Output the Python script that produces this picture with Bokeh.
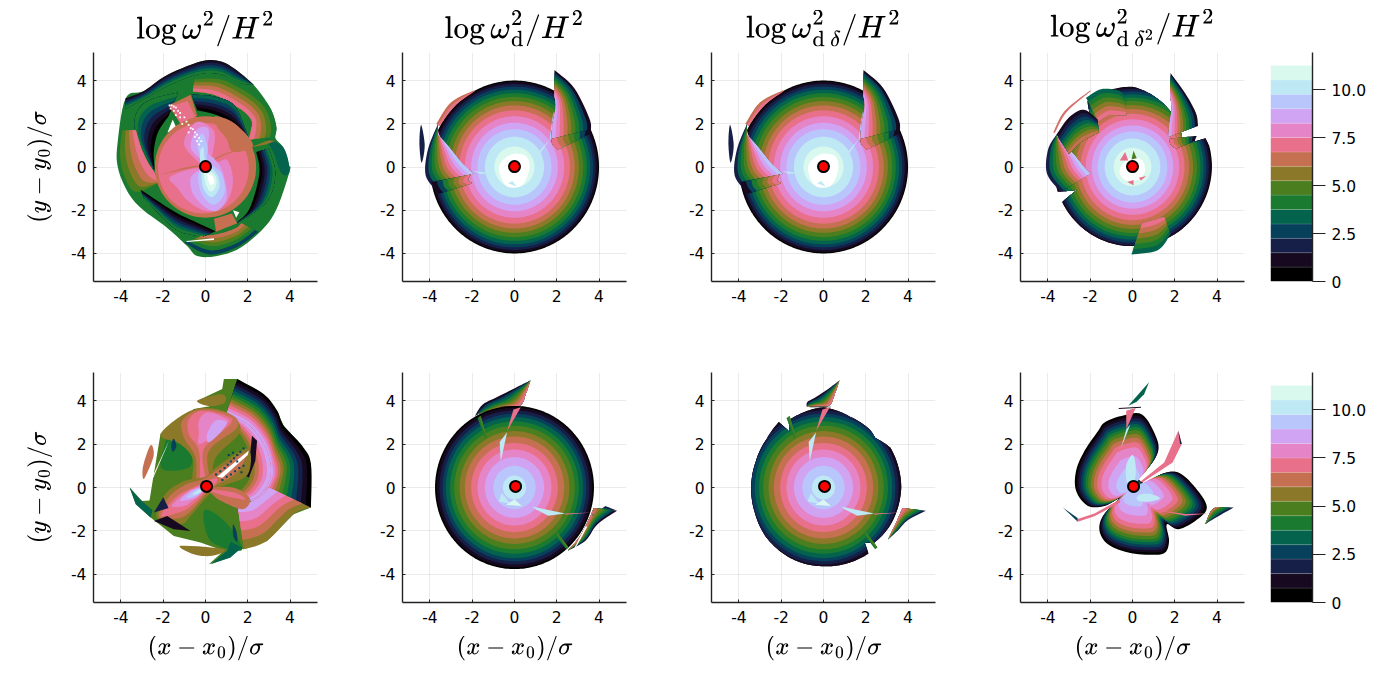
import numpy as np
from bokeh.embed import file_html
from bokeh.layouts import column, row
from bokeh.models import FixedTicker, Range1d
from bokeh.plotting import figure
from bokeh.resources import INLINE

# colour per contour level, bottom of the colorbar first
level_colors = ["#000000", "#170a20", "#161f48", "#07405a", "#04634d", "#1a7a30", "#4a7e1e", "#8b7828",
                "#c67052", "#e8708a", "#e684c8", "#d0a4f3", "#b9c6fc", "#bde8f4", "#d9f8ee", "#ffffff"]
WHITE = 15

colorbar_edges = [0, 0.75, 1.5, 2.25, 3, 3.75, 4.5, 5.25, 6, 6.75, 7.5, 8.25, 9, 9.75, 10.5, 11.25]
colorbar_ticks = [0, 2.5, 5, 7.5, 10]
colorbar_labels = ["0", "2.5", "5.0", "7.5", "10.0"]
axis_ticks = [-4, -2, 0, 2, 4]
axis_tick_labels = ["-4", "-2", "0", "2", "4"]

titles = [r"$$\log\omega^2/H^2$$", r"$$\log\omega^2_{\mathrm{d}}/H^2$$",
          r"$$\log\omega^2_{\mathrm{d}\,\delta}/H^2$$", r"$$\log\omega^2_{\mathrm{d}\,\delta^2}/H^2$$"]
x_label = r"$$(x-x_0)/\sigma$$"
y_label = r"$$(y-y_0)/\sigma$$"

# contour radii read along one ray, outermost (level 0) first
ring_radii_top = [4.0, 3.94, 3.84, 3.72, 3.58, 3.42, 3.25, 3.05, 2.85, 2.62, 2.35, 2.05, 1.75, 1.4, 0.95]
ring_radii_bottom = [3.76, 3.68, 3.55, 3.4, 3.25, 3.05, 2.85, 2.6, 2.35, 2.05, 1.75, 1.4, 1.0, 0.55]

centre_top = (0.0, 0.02)
centre_bottom = (0.05, 0.05)

# top left panel: edges
a_outline = [(-3.78, 3.18), (-2.91, 3.52), (-1.81, 4.26), (-0.24, 4.88), (0.63, 4.91), (1.34, 4.57), (2.28, 3.8),
             (3.07, 2.72), (3.35, 1.88), (3.31, 1.34), (3.7, 0.88), (3.94, 0.1), (3.98, -0.2), (3.39, -1.89),
             (2.76, -2.82), (1.65, -3.74), (0.55, -4.12), (-0.39, -4.12), (-0.87, -3.66), (-1.81, -2.82),
             (-3.07, -1.89), (-3.7, -1.12), (-4.14, -0.05), (-4.17, 1.03)]
a_top_outer = [(-3.78, 3.18), (-2.91, 3.52), (-1.81, 4.26), (-0.24, 4.88), (0.63, 4.91), (1.34, 4.57), (2.28, 3.8)]
a_top_inner = [(-3.8, 2.7), (-2.8, 3.2), (-1.7, 3.8), (-0.3, 4.3), (0.7, 4.3), (1.6, 3.9), (2.28, 3.8)]
a_ne_outer = [(-0.5, 4.2), (0.7, 4.25), (1.7, 3.85), (2.55, 3.3), (3.07, 2.72), (3.35, 1.88), (3.3, 1.42)]
a_ne_inner = [(-0.6, 3.5), (0.4, 3.35), (1.3, 2.9), (1.9, 2.5), (2.2, 2.1), (2.15, 1.7), (2.05, 1.26)]
a_ne_dark = [(-0.39, 2.62), (0.55, 2.4), (1.34, 1.95), (2.05, 1.3)]
a_ne_light = [(-0.65, 3.35), (0.45, 3.25), (1.4, 2.8), (2.05, 1.3)]
a_nw_dark = [(-1.75, 2.35), (-2.25, 1.6), (-2.45, 0.7), (-2.4, -0.1)]
a_nw_light = [(-1.3, 3.45), (-2.9, 2.95), (-3.35, 1.8), (-2.5, -0.1)]
a_w_outer = [(-3.95, 1.7), (-4.05, 0.6), (-3.85, -0.4), (-3.3, -1.15), (-2.15, -0.7)]
a_w_inner = [(-3.3, 1.7), (-3.05, 0.9), (-2.75, 0.25), (-2.45, -0.2), (-2.15, -0.7)]
a_e_dark = [(2.4, 0.7), (2.55, -0.3), (2.1, -1.9), (1.5, -2.55)]
a_e_light = [(3.0, 0.85), (3.3, -0.3), (2.9, -1.6), (1.5, -2.6)]
a_e_lump = [(2.9, 1.3), (3.7, 0.88), (3.98, -0.2), (3.6, -0.3), (3.2, 0.7)]
a_e_stripe = [(2.05, 0.88), (3.0, 1.25), (3.3, 1.2), (2.9, 1.05)]
a_s_dark = [(0.47, -2.97), (-0.39, -2.58), (-1.5, -2.05), (-3.07, -1.05)]
a_s_light = [(-0.08, -3.2), (-0.6, -3.15), (-1.5, -2.82), (-2.91, -1.43)]
a_s_outer = [(-1.0, -3.5), (0.2, -4.05), (1.5, -3.7), (2.5, -3.0)]
a_s_inner = [(-0.2, -3.2), (0.6, -3.1), (1.4, -2.85), (1.7, -2.6)]
a_cap_s = [(0.4, -2.4), (1.25, -2.15), (1.5, -2.6), (0.5, -3.0)]
a_cap_n8 = [(-1.75, 2.85), (-0.7, 3.35), (-0.4, 2.4), (-0.9, 1.6)]
a_cap_n9 = [(-1.65, 2.8), (-0.85, 3.05), (-0.5, 2.35), (-1.0, 1.7)]
a_gap_n = [(-1.55, 2.2), (-1.35, 1.75), (-1.8, 1.6)]
a_gap_s = [(1.3, -2.0), (1.6, -2.1), (1.45, -2.35)]
a_gap_low = [(-0.9, -3.42), (0.4, -3.3), (0.4, -3.38), (-0.9, -3.47)]
a_disc_radius = 2.4
a_rose_radius = 2.15
a_rose_centre = (-0.1, -0.05)
a_terra_ne = [(0.45, 2.35), (1.4, 2.0), (2.25, 1.0), (1.3, 0.7), (1.0, 1.3), (0.55, 1.85)]
a_s_line = [(-2.3, -0.4), (-1.0, -0.1), (-0.1, 0.05), (0.9, 0.55), (2.1, 0.95), (0.9, 0.62), (-0.1, 0.12), (-1.0, -0.02)]
a_pink_up = [(-1.0, 1.0), (-0.75, 1.75), (-0.3, 2.1), (0.4, 1.65), (0.35, 0.7), (0.1, 0.1), (-0.3, 0.2)]
a_pink_low = [(-1.7, -0.5), (-0.9, -0.15), (0.0, 0.0), (0.55, 0.2), (1.05, 0.3), (1.3, -0.7), (0.95, -1.7), (0.1, -2.05), (-0.8, -1.6), (-1.35, -0.95)]
a_lilac = [(-0.7, 0.9), (-0.4, 1.75), (0.15, 1.75), (0.1, 0.7), (0.4, 0.4), (0.8, -0.2), (1.0, -1.45), (0.4, -2.05), (-0.5, -1.4), (-0.7, -0.5), (-0.1, 0.1)]
a_peri = [(-0.4, 1.1), (-0.15, 1.55), (0.1, 0.9), (0.1, 0.3), (0.75, -0.3), (0.9, -1.2), (0.4, -1.75), (-0.15, -1.3), (-0.35, -0.5), (-0.2, 0.2)]
a_blue = [(-0.25, 0.75), (-0.1, 0.9), (0.0, 0.3), (0.55, -0.35), (0.65, -0.95), (0.3, -1.4), (-0.1, -1.0), (-0.2, -0.3), (-0.25, 0.2)]
a_green = [(-0.05, -0.1), (0.45, -0.4), (0.5, -0.85), (0.25, -1.15), (0.0, -0.75)]
a_white = [(0.1, -0.35), (0.35, -0.45), (0.4, -0.75), (0.2, -0.8)]
a_dots_x = [-1.7, -1.6, -1.5, -1.4, -1.65, -1.5, -1.3, -1.2, -1.4, -1.2, -1.0, -0.9, -1.1, -0.8, -0.7, -0.6, -0.8, -0.5, -0.4, -0.5, -0.3, -0.4, -0.2, -0.3]
a_dots_y = [2.85, 2.85, 2.8, 2.75, 2.7, 2.6, 2.6, 2.5, 2.4, 2.3, 2.3, 2.1, 2.0, 1.95, 1.8, 1.75, 1.6, 1.6, 1.5, 1.4, 1.35, 1.2, 1.2, 1.05]

# second and third top panels
b_ne_outer = [(1.89, 4.49), (2.83, 3.65), (3.54, 2.26), (3.62, 1.72)]
b_ne_inner = [(1.89, 3.3), (1.95, 2.8), (1.8, 2.0), (1.75, 1.3)]
b_ne_fan_dark = [(3.62, 1.75), (3.6, 1.65), (3.5, 1.5)]
b_ne_fan_light = [(1.75, 1.3), (1.8, 1.05), (2.05, 0.8)]
b_ne_sliver = [(1.65, 1.25), (1.85, 2.6), (1.85, 1.3)]
b_ne_streak = [(1.05, 0.6), (1.65, 1.25), (1.2, 0.6)]
b_w_outer = [(-3.62, 2.0), (-4.1, 0.8), (-4.2, -0.4), (-3.6, -1.2)]
b_w_inner = [(-3.62, 1.5), (-3.0, 0.8), (-2.5, 0.2), (-1.95, -0.3)]
b_w_fan_dark = [(-3.6, -1.25), (-3.8, -1.0), (-3.95, -0.7)]
b_w_fan_light = [(-2.0, -0.75), (-2.2, -0.6), (-2.05, -0.35)]
b_rim_outer = [(-3.7, 2.0), (-3.0, 3.0), (-1.9, 3.55)]
b_rim_inner = [(-3.55, 1.9), (-2.8, 2.85), (-1.9, 3.5)]
b_sliver_w = [(-4.42, 1.95), (-4.25, 1.0), (-4.4, 0.2), (-4.5, 1.1)]
b_streak_w = [(-1.95, -0.18), (-1.15, -0.28), (-1.6, -0.32)]
b_white = [(-0.65, 0.2), (-0.1, 0.6), (0.55, 0.5), (0.7, -0.1), (0.35, -0.85), (-0.35, -0.9), (-0.7, -0.3)]
b_mark = [(-0.3, -0.75), (0.1, -0.9), (-0.1, -0.65)]

# top right panel
d_limit_angles = [0, 15, 21, 23, 90, 125, 130, 160, 165, 180, 198, 202, 206, 270, 360]
d_limit_radii = [3.76, 3.76, 3.7, 2.6, 3.72, 3.72, 3.1, 3.1, 3.72, 3.72, 3.72, 2.8, 3.7, 3.66, 3.76]
d_ne_outer = [(1.8, 4.35), (2.5, 3.4), (3.0, 2.5), (3.1, 1.9)]
d_ne_inner = [(1.78, 3.3), (1.85, 2.7), (1.75, 2.0), (1.7, 1.4)]
d_fan_dark = [(3.05, 1.45), (3.0, 1.35), (2.95, 1.2)]
d_fan_light = [(1.75, 1.3), (1.8, 1.05), (2.05, 0.85)]
d_w_outer = [(-3.6, 1.5), (-4.0, 0.8), (-4.05, -0.3), (-3.4, -1.15)]
d_w_inner = [(-3.55, 1.35), (-2.8, 0.6), (-2.3, 0.0), (-2.0, -0.3)]
d_nw_outer = [(-3.6, 1.5), (-3.0, 2.3), (-2.3, 2.65), (-1.65, 2.2)]
d_nw_inner = [(-3.0, 0.6), (-2.5, 1.1), (-2.0, 1.4), (-1.6, 1.6)]
d_rim_outer = [(-3.75, 1.6), (-3.2, 2.6), (-2.0, 3.55)]
d_rim_inner = [(-3.68, 1.58), (-3.12, 2.55), (-2.0, 3.5)]
d_n_outer = [(-2.2, 3.2), (-1.5, 3.6), (-0.7, 3.55), (-0.35, 3.3)]
d_n_inner = [(-1.6, 2.1), (-1.1, 2.4), (-0.7, 2.4), (-0.3, 2.4)]
d_s_outer = [(-0.05, -4.05), (1.2, -3.85), (1.8, -3.1)]
d_s_inner = [(0.45, -2.6), (1.0, -2.45), (1.5, -2.3)]
d_white = [(-0.5, 0.1), (-0.1, 0.4), (0.4, 0.35), (0.6, -0.1), (0.35, -0.55), (-0.25, -0.65), (-0.6, -0.3)]
d_mark_a = [(-0.6, 0.3), (-0.35, 0.7), (-0.2, 0.3)]
d_mark_b = [(-0.05, 0.35), (0.05, 0.75), (0.2, 0.4)]
d_mark_c = [(-0.25, -0.7), (0.05, -0.6), (0.05, -0.85)]
d_mark_d = [(0.3, -0.5), (0.65, -0.42), (0.4, -0.62)]

# bottom left panel
e_outline = [(0.87, 5.0), (1.5, 5.0), (2.76, 4.3), (3.39, 3.54), (3.7, 2.85), (4.57, 1.92), (4.99, 1.08), (4.99, -0.92),
             (4.17, -1.23), (2.91, -2.46), (1.81, -2.85), (1.34, -2.77), (1.18, -3.23), (0.16, -3.54), (0.87, -2.92),
             (-0.24, -2.54), (-1.5, -2.23), (-2.28, -1.62), (-2.6, -1.38), (-3.3, -0.77), (-3.59, 0.0), (-3.0, -0.62),
             (-2.65, -0.6), (-2.5, 0.3), (-2.13, 2.46), (-0.55, 3.62), (0.2, 3.75), (-0.39, 4.0), (0.79, 4.54)]
e_blob_top = [(-0.39, 4.0), (0.79, 4.3), (0.9, 3.9), (0.2, 3.75)]
e_right_outer = [(1.5, 5.0), (2.76, 4.3), (3.39, 3.54), (3.7, 2.85), (4.57, 1.92), (4.99, 1.08), (4.99, -0.92)]
e_crest = [(1.0, 3.4), (2.0, 2.9), (2.7, 2.1), (3.05, 1.2), (3.05, 0.4), (2.6, -0.3), (2.05, -0.6)]
e_crest_in = [(0.3, 3.4), (1.2, 2.9), (1.8, 2.2), (2.1, 1.4), (2.1, 0.5), (1.7, -0.1), (1.3, -0.3)]
e_low_outer = [(4.99, -0.92), (4.17, -1.23), (2.91, -2.46), (1.81, -2.85)]
e_low_inner = [(3.0, 0.0), (2.6, -0.4), (2.05, -0.7), (1.5, -0.7)]
e_olive_top = [(-2.13, 2.46), (-0.55, 3.6), (1.02, 3.46), (1.65, 2.6), (0.5, 1.4), (0.2, 0.2), (-0.6, 0.1), (-0.6, 1.3), (-1.2, 2.0)]
e_terra_top = [(-1.1, 3.08), (-0.24, 3.6), (1.18, 3.38), (1.5, 2.77), (0.16, 1.69), (0.16, 0.3), (-0.39, 0.15), (-0.47, 1.38), (-1.02, 2.3)]
e_rose_top = [(-0.79, 3.15), (-0.16, 3.54), (1.02, 3.3), (1.18, 2.92), (-0.08, 1.77), (0.0, 0.3), (-0.24, 0.23), (-0.31, 1.69), (-0.79, 2.46)]
e_pink_top = [(-0.31, 3.08), (0.08, 3.46), (0.87, 3.23), (1.02, 2.92), (-0.24, 2.0), (-0.31, 2.5)]
e_lilac_top = [(0.08, 2.46), (0.47, 3.08), (1.0, 3.0), (0.71, 2.54), (0.16, 2.08)]
e_green_nw = [(-1.5, 2.85), (-0.71, 1.69), (-0.79, 0.92), (-2.05, 0.85), (-1.97, 1.85)]
e_green_s = [(-0.08, -1.08), (0.71, -1.38), (1.5, -2.3), (1.65, -2.92), (0.24, -2.46)]
e_diag7 = [(-2.3, -1.4), (-1.9, -0.3), (-1.0, 0.3), (0.0, 0.5), (0.6, 1.0), (2.0, 1.8), (2.0, 0.6), (0.9, 0.1), (0.2, -0.3), (-0.7, -1.3), (-1.2, -1.7)]
e_diag8 = [(-2.2, -1.35), (-1.7, -0.4), (-0.9, 0.15), (-0.1, 0.4), (0.7, 0.9), (1.9, 1.6), (1.5, 0.7), (0.5, 0.1), (0.1, -0.2), (-0.6, -1.0), (-1.2, -1.4)]
e_diag9 = [(-2.1, -1.3), (-1.4, -0.45), (-0.7, -0.05), (-0.1, 0.2), (0.5, 0.45), (0.5, 0.2), (0.1, -0.1), (-0.5, -0.7), (-1.1, -1.1)]
e_diag10 = [(-1.6, -0.85), (-1.0, -0.3), (-0.3, 0.05), (0.1, 0.1), (-0.1, -0.2), (-0.6, -0.6), (-1.0, -0.85)]
e_diag11 = [(-1.2, -0.6), (-0.7, -0.15), (-0.15, 0.0), (-0.1, -0.15), (-0.55, -0.5)]
e_diag12 = [(-0.9, -0.45), (-0.45, -0.1), (-0.1, -0.02), (-0.15, -0.15), (-0.5, -0.4)]
e_diag13 = [(-0.6, -0.3), (-0.3, -0.1), (-0.2, -0.18), (-0.4, -0.3)]
e_flick8 = [(0.0, -0.05), (1.3, 0.0), (2.1, -0.5), (1.75, -1.0), (0.7, -0.6), (0.3, -0.3)]
e_flick9 = [(0.08, -0.08), (1.34, -0.23), (1.89, -0.54), (1.2, -0.45), (0.3, -0.2)]
e_dark_ne = [(2.2, 2.38), (2.13, 1.69), (1.81, 0.6), (2.05, 0.46), (2.36, 1.23), (2.44, 2.15)]
e_dark_sw = [(-2.44, -1.15), (-2.0, -0.45), (-1.75, -0.95)]
e_dark_s = [(-2.44, -1.54), (-1.81, -1.31), (-0.71, -2.0), (-1.5, -1.92)]
e_spot_nw = [(-1.5, 2.25), (-1.38, 1.9), (-1.55, 1.65), (-1.62, 1.95)]
e_spot_s = [(1.3, -1.7), (1.47, -2.05), (1.5, -2.5), (1.32, -2.25)]
e_tip_s = [(0.24, -3.54), (1.02, -2.92), (1.2, -2.5), (1.73, -2.77), (1.18, -3.23)]
e_blob = [(-1.18, -2.69), (0.87, -2.85), (0.31, -3.15), (-0.55, -3.08)]
e_strip_w = [(-2.95, 0.4), (-2.95, 1.0), (-2.6, 1.95), (-2.45, 1.5), (-2.75, 0.7)]
e_slash = [(-2.6, 0.3), (-1.73, 2.15), (-1.85, 1.85), (-2.45, 0.5)]
e_spike = [(-3.59, 0.0), (-3.3, -0.77), (-2.6, -1.38), (-2.5, -1.05), (-3.1, -0.55)]
e_hatch_x = [0.5, 0.7, 0.9, 1.05, 1.2, 1.35, 1.5, 1.65, 1.8, 0.8, 1.0, 1.2, 1.4, 1.6, 1.8, 1.1, 1.3, 1.5, 1.7]
e_hatch_y = [0.6, 0.75, 0.9, 1.05, 1.2, 1.35, 1.5, 1.65, 1.8, 0.35, 0.5, 0.6, 0.75, 0.9, 1.0, 1.5, 1.6, 1.2, 0.7]
e_white_slit = [(0.55, 0.5), (2.05, 1.7), (2.0, 1.5), (0.8, 0.45)]

# second and third bottom panels
f_n_outer = [(0.75, 4.93), (0.1, 4.62), (-0.75, 4.2), (-1.5, 3.83), (-1.87, 3.3)]
f_n_inner = [(0.75, 4.93), (0.55, 4.35), (0.3, 3.8), (-0.3, 3.7), (-1.7, 3.4)]
f_n_line = [(-0.65, 3.72), (0.35, 3.72), (0.35, 3.7), (-0.65, 3.7)]
f_se_outer = [(4.85, -1.07), (3.93, -1.69), (3.36, -2.45), (2.52, -2.91)]
f_se_inner = [(3.74, -0.95), (3.6, -1.3), (3.1, -2.25), (2.52, -2.91)]
f_se_fan_dark = [(4.85, -1.07), (4.3, -0.85)]
f_se_fan_light = [(3.74, -0.95), (3.7, -1.3)]
f_crack = [(3.45, -1.8), (2.8, -2.95), (2.75, -2.95), (3.35, -1.8)]
f_strip_n_a = [(-1.75, 3.2), (-1.4, 2.3)]
f_strip_n_b = [(-1.6, 3.3), (-1.3, 2.3)]
f_strip_s_a = [(1.9, -2.15), (2.45, -2.85)]
f_strip_s_b = [(2.0, -2.05), (2.55, -2.75)]
f_rose_n = [(-0.05, 3.6), (0.3, 3.7), (-0.35, 2.6)]
f_blue_n = [(-0.35, 2.55), (-0.65, 1.2), (-0.7, 2.1)]
f_blue_e = [(0.84, -0.88), (2.4, -1.2), (1.6, -1.3), (1.0, -1.0)]
f_rose_e = [(2.4, -1.2), (3.65, -1.15), (2.4, -1.26)]
f_mark_a = [(-0.6, -0.25), (-0.2, -0.75), (-0.75, -0.65)]
f_mark_b = [(-0.4, -0.8), (0.35, -0.85), (0.0, -0.55)]
g_limit_angles = [0, 30, 43, 50, 70, 90, 118, 122, 125, 140, 160, 180, 200, 220, 250, 270, 290, 305, 307.5, 313.6, 330, 360]
g_limit_radii = [3.68, 3.66, 3.35, 3.45, 3.5, 3.7, 3.5, 3.0, 3.68, 3.5, 3.42, 3.42, 3.45, 3.55, 3.62, 3.63, 3.68, 3.72, 3.2, 3.5, 3.6, 3.68]
g_n_outer = [(0.75, 4.93), (0.3, 4.6), (-0.3, 4.2), (-0.75, 3.95), (-0.8, 3.75)]
g_n_inner = [(0.75, 4.93), (0.55, 4.35), (0.3, 3.8), (-0.2, 3.75), (-0.75, 3.75)]
g_se_outer = [(4.85, -1.07), (4.0, -1.5), (3.5, -2.0), (3.05, -2.4)]
g_se_inner = [(3.74, -0.95), (3.6, -1.25), (3.4, -1.7), (3.05, -2.4)]

# bottom right panel
h_outline = [(0.27, 0.38), (0.75, 0.15), (1.38, 0.62), (2.17, 0.69), (2.97, 0.0), (3.52, -0.92), (2.97, -1.54),
             (2.17, -1.92), (1.62, -1.7), (1.73, -2.46), (1.54, -3.0), (0.9, -3.1), (-0.2, -3.0), (-1.16, -2.62),
             (-1.56, -2.0), (-1.4, -1.31), (-0.68, -0.54), (-1.32, -0.85), (-2.11, -0.85), (-2.67, -0.15),
             (-2.67, 0.77), (-2.27, 1.69), (-1.63, 2.6), (-1.32, 3.0), (-0.52, 3.3), (0.43, 3.38), (1.06, 2.46),
             (1.22, 1.69), (0.75, 0.92), (0.19, 0.54)]
h_fractions = [1.0, 0.965, 0.93, 0.89, 0.85, 0.81, 0.77, 0.72, 0.67, 0.61, 0.54, 0.42, 0.28]
h_pale_a = [(-0.25, 0.2), (-0.3, 1.0), (0.0, 1.5), (0.15, 1.0), (0.1, 0.35)]
h_pale_b = [(0.3, -0.35), (0.85, -0.3), (1.3, -0.5), (0.8, -0.65), (0.25, -0.6)]
h_n_leaf = [(0.78, 4.85), (-0.2, 3.77), (0.2, 3.95), (0.55, 4.3)]
h_n_rose = [(-0.3, 3.54), (0.15, 3.66), (-0.29, 2.7)]
h_n_blue = [(-0.29, 2.7), (-0.1, 2.9), (-0.55, 1.8)]
h_n_line = [(-0.65, 3.66), (0.4, 3.72), (0.4, 3.68), (-0.65, 3.62)]
h_ne_sliver = [(0.35, 0.25), (1.5, 1.15), (2.17, 2.62), (2.33, 2.0), (1.9, 1.15), (0.5, 0.25)]
h_ne_tip = [(2.17, 2.62), (2.33, 2.0), (2.25, 2.0)]
h_sw_sliver = [(-0.6, -0.55), (-1.8, -1.2), (-2.6, -1.45), (-2.59, -1.58), (-1.8, -1.33), (-0.6, -0.7)]
h_sw_tip = [(-3.3, -0.92), (-2.59, -1.58), (-2.6, -1.4)]
h_e_sliver = [(0.95, -1.0), (2.5, -1.22), (3.6, -1.2), (2.5, -1.3)]
h_e_leaf_a = [(4.79, -0.92), (4.1, -1.3), (3.44, -1.69)]
h_e_leaf_b = [(3.95, -0.9), (3.7, -1.1), (3.44, -1.69)]


def smooth(points, closed=False, steps=7):
    # Catmull-Rom through the read points, only to round the drawn edge
    pts = np.array(points, dtype=float)
    if len(pts) < 3:
        return np.linspace(pts[0], pts[-1], steps + 1)
    if closed:
        ring = np.vstack([pts[-1], pts, pts[:2]])
    else:
        ring = np.vstack([pts[0], pts, pts[-1]])
    out = []
    for i in range(1, len(ring) - 2):
        p0, p1, p2, p3 = ring[i - 1], ring[i], ring[i + 1], ring[i + 2]
        for t in np.linspace(0, 1, steps, endpoint=False):
            out.append(0.5 * (2 * p1 + (p2 - p0) * t + (2 * p0 - 5 * p1 + 4 * p2 - p3) * t ** 2
                              + (3 * p1 - p0 - 3 * p2 + p3) * t ** 3))
    if not closed:
        out.append(ring[-2])
    return np.array(out)


def fill(p, xs, ys, level):
    p.patch(xs, ys, fill_color=level_colors[level], line_color=None)


def blob(p, points, level, round_edge=True):
    pts = smooth(points, closed=True) if round_edge else np.array(points, dtype=float)
    fill(p, pts[:, 0], pts[:, 1], level)


def shell(p, outer, inner, levels):
    # band edges between two read edges are blended, one per listed level
    o = smooth(outer)
    i = smooth(inner)
    for k, level in enumerate(levels):
        edge = o + (i - o) * k / len(levels)
        fill(p, np.r_[edge[:, 0], i[::-1, 0]], np.r_[edge[:, 1], i[::-1, 1]], level)


def rings(p, radii, limit_angles=None, limit_radii=None):
    angles = np.radians(np.arange(0, 360.5, 1.5))
    if limit_angles is not None:
        angles = np.sort(np.r_[angles, np.radians(limit_angles)])
    for level, r in enumerate(radii):
        rr = np.full(angles.shape, float(r))
        if limit_angles is not None:
            rr = np.minimum(rr, np.interp(angles, np.radians(limit_angles), limit_radii))
        fill(p, rr * np.cos(angles), rr * np.sin(angles), level)


def make_panel(title, left, top, bottom, frame_height, show_x=False, show_y=False):
    p = figure(width=left + 224 + 25, height=top + frame_height + bottom, output_backend="svg", toolbar_location=None,
               x_range=Range1d(-5.3, 5.3), y_range=Range1d(-5.3, 5.3), tools="")
    p.min_border_left = left
    p.min_border_right = 25
    p.min_border_top = top
    p.min_border_bottom = bottom
    p.outline_line_color = None
    p.background_fill_color = "white"
    p.grid.grid_line_color = "black"
    p.grid.grid_line_alpha = 0.08
    p.grid.ticker = FixedTicker(ticks=axis_ticks)
    for ax in p.axis:
        ax.ticker = FixedTicker(ticks=axis_ticks)
        ax.major_label_overrides = dict(zip(axis_ticks, axis_tick_labels))
        ax.axis_line_width = 1.4
        ax.axis_line_color = "#222222"
        ax.major_tick_in = 3
        ax.major_tick_out = 0
        ax.major_tick_line_color = "#222222"
        ax.minor_tick_line_color = None
        ax.major_label_text_font = "DejaVu Sans"
        ax.major_label_text_font_size = "15.5px"
        ax.major_label_text_color = "black"
        ax.major_label_standoff = 7
        ax.axis_label_text_font_size = "20px"
        ax.axis_label_text_color = "black"
    p.xaxis.major_label_standoff = 8
    p.xaxis.axis_label_standoff = 10
    p.yaxis.axis_label_standoff = 16
    if show_x:
        p.xaxis.axis_label = x_label
    if show_y:
        p.yaxis.axis_label = y_label
    if title:
        p.title.text = title
        p.title.align = "center"
        p.title.text_font_size = "26px"
        p.title.text_font_style = "normal"
        p.title.text_color = "black"
        p.title.standoff = 12
    return p


def pin(p, centre):
    p.scatter([centre[0]], [centre[1]], size=11, fill_color="red", line_color="black", line_width=2)


def draw_top_left(p):
    blob(p, a_outline, 5)
    shell(p, a_top_outer, a_top_inner, [1, 2, 3, 4, 5])
    shell(p, a_ne_outer, a_ne_inner, [5, 6, 7, 8, 9])
    shell(p, a_ne_dark, a_ne_light, [0, 1, 2, 3, 4])
    shell(p, a_nw_dark, a_nw_light, [0, 1, 2, 3, 4, 5])
    shell(p, a_w_outer, a_w_inner, [6, 7, 8, 9])
    shell(p, a_s_outer, a_s_inner, [3, 5, 6, 7, 8])
    shell(p, a_s_dark, a_s_light, [0, 1, 2, 3, 4, 5])
    shell(p, a_e_dark, a_e_light, [0, 1, 2, 3, 4, 5])
    blob(p, a_e_lump, 4)
    blob(p, a_e_stripe, 7, False)
    blob(p, a_cap_s, 8, False)
    blob(p, a_cap_n8, 8, False)
    blob(p, a_cap_n9, 9, False)
    blob(p, a_gap_n, WHITE, False)
    blob(p, a_gap_s, WHITE, False)
    blob(p, a_gap_low, WHITE, False)
    p.circle([0], [0], radius=a_disc_radius, fill_color=level_colors[8], line_color=None)
    p.circle([a_rose_centre[0]], [a_rose_centre[1]], radius=a_rose_radius, fill_color=level_colors[9], line_color=None)
    blob(p, a_terra_ne, 8)
    blob(p, a_s_line, 8, False)
    blob(p, a_pink_up, 10)
    blob(p, a_pink_low, 10)
    blob(p, a_lilac, 11)
    blob(p, a_peri, 12)
    blob(p, a_blue, 13)
    blob(p, a_green, 14)
    blob(p, a_white, WHITE)
    p.scatter(a_dots_x, a_dots_y, marker="square", size=1.8, fill_color="white", line_color=None)
    pin(p, centre_top)


def draw_top_middle(p):
    blob(p, b_sliver_w, 2)
    rings(p, ring_radii_top)
    shell(p, b_rim_outer, b_rim_inner, [8, 9])
    blob(p, b_ne_sliver, 12, False)
    blob(p, b_ne_streak, 13, False)
    shell(p, b_ne_outer, b_ne_inner, [1, 3, 4, 5, 6, 7, 8, 9, 10, 11])
    shell(p, b_ne_fan_dark, b_ne_fan_light, [1, 3, 5, 6, 7, 8, 9])
    shell(p, b_w_outer, b_w_inner, [2, 4, 5, 6, 7, 8, 9, 10, 11, 12])
    shell(p, b_w_fan_dark, b_w_fan_light, [1, 3, 5, 6, 7, 8, 9])
    blob(p, b_streak_w, 13, False)
    blob(p, b_white, WHITE)
    blob(p, b_mark, 13, False)
    pin(p, centre_top)


def draw_top_right(p):
    rings(p, [r * 0.94 for r in ring_radii_top], d_limit_angles, d_limit_radii)
    shell(p, d_rim_outer, d_rim_inner, [8, 9])
    shell(p, d_n_outer, d_n_inner, [4, 5, 6, 7, 8, 9])
    shell(p, d_w_outer, d_w_inner, [2, 4, 5, 6, 7, 8, 9, 10, 11, 12])
    shell(p, d_nw_outer, d_nw_inner, [1, 2, 3, 4, 5, 6, 7, 8])
    shell(p, d_s_outer, d_s_inner, [4, 5, 6, 7, 8, 9])
    shell(p, d_ne_outer, d_ne_inner, [1, 3, 4, 5, 6, 7, 8, 9, 10, 11])
    shell(p, d_fan_dark, d_fan_light, [1, 3, 5, 6, 7, 8, 9])
    blob(p, d_white, WHITE)
    blob(p, d_mark_a, 9, False)
    blob(p, d_mark_b, 6, False)
    blob(p, d_mark_c, 9, False)
    blob(p, d_mark_d, 9, False)
    pin(p, centre_top)


def draw_bottom_left(p):
    blob(p, e_outline, 6, False)
    blob(p, e_blob_top, 7)
    shell(p, e_right_outer, e_crest, [0, 1, 2, 3, 4, 5, 6, 7, 8, 9, 10, 11])
    shell(p, e_crest_in, e_crest, [7, 8, 9, 10, 11])
    shell(p, e_low_outer, e_low_inner, [7, 8, 9, 10, 11])
    blob(p, e_green_nw, 5)
    blob(p, e_green_s, 5)
    blob(p, e_olive_top, 7)
    blob(p, e_terra_top, 8)
    blob(p, e_rose_top, 9)
    blob(p, e_pink_top, 10)
    blob(p, e_lilac_top, 11)
    blob(p, e_dark_ne, 1, False)
    blob(p, e_diag7, 7)
    blob(p, e_diag8, 8)
    blob(p, e_flick8, 8)
    blob(p, e_flick9, 9)
    blob(p, e_diag9, 9)
    blob(p, e_diag10, 10)
    blob(p, e_diag11, 11)
    blob(p, e_diag12, 12)
    blob(p, e_diag13, 13)
    blob(p, e_dark_sw, 2, False)
    blob(p, e_dark_s, 1, False)
    blob(p, e_spot_nw, 3)
    blob(p, e_spot_s, 3)
    blob(p, e_tip_s, 4, False)
    blob(p, e_blob, 7)
    blob(p, e_strip_w, 8)
    blob(p, e_slash, WHITE, False)
    blob(p, e_spike, 4, False)
    blob(p, e_white_slit, WHITE, False)
    p.scatter(e_hatch_x, e_hatch_y, marker="square", size=2, fill_color=level_colors[3], line_color=None)
    pin(p, centre_bottom)


def draw_bottom_second(p):
    shell(p, f_n_outer, f_n_inner, [1, 3, 4, 5, 6, 7, 8, 9])
    shell(p, f_se_outer, f_se_inner, [1, 3, 4, 5, 6, 7, 8, 9])
    shell(p, f_se_fan_dark, f_se_fan_light, [2, 4, 5, 6, 7, 8])
    rings(p, ring_radii_bottom)
    blob(p, f_crack, WHITE, False)
    draw_bottom_cuts(p)


def draw_bottom_third(p):
    shell(p, g_n_outer, g_n_inner, [1, 3, 4, 5, 6, 7, 8, 9])
    shell(p, g_se_outer, g_se_inner, [2, 4, 5, 6, 7, 8, 9])
    rings(p, ring_radii_bottom, g_limit_angles, g_limit_radii)
    draw_bottom_cuts(p)


def draw_bottom_cuts(p):
    shell(p, f_strip_n_a, f_strip_n_b, [5, 6])
    shell(p, f_strip_s_a, f_strip_s_b, [5, 6])
    blob(p, f_n_line, 0, False)
    blob(p, f_rose_n, 9, False)
    blob(p, f_blue_n, 13, False)
    blob(p, f_blue_e, 13, False)
    blob(p, f_rose_e, 9, False)
    blob(p, f_mark_a, 13, False)
    blob(p, f_mark_b, 14, False)
    pin(p, centre_bottom)


def draw_bottom_right(p):
    base = np.array(h_outline, dtype=float)
    for level, frac in enumerate(h_fractions):
        pts = smooth(base * frac, closed=True)
        fill(p, pts[:, 0], pts[:, 1], level)
    blob(p, h_pale_a, 13)
    blob(p, h_pale_b, 13)
    blob(p, h_n_leaf, 4, False)
    blob(p, h_n_line, 1, False)
    blob(p, h_n_rose, 9, False)
    blob(p, h_n_blue, 13, False)
    blob(p, h_ne_sliver, 9, False)
    blob(p, h_ne_tip, 2, False)
    blob(p, h_sw_sliver, 9, False)
    blob(p, h_sw_tip, 3, False)
    blob(p, h_e_sliver, 9, False)
    shell(p, h_e_leaf_a, h_e_leaf_b, [2, 4, 5, 6, 8])
    pin(p, centre_bottom)


def make_colorbar(top, bottom, frame_height):
    p = figure(width=122, height=top + frame_height + bottom, output_backend="svg", toolbar_location=None,
               x_range=Range1d(0, 1), y_range=Range1d(0, 11.93), tools="", x_axis_location=None, y_axis_location="right")
    p.min_border_left = 1
    p.min_border_right = 79
    p.min_border_top = top
    p.min_border_bottom = bottom
    p.outline_line_color = None
    p.grid.visible = False
    p.quad(left=0, right=1, bottom=colorbar_edges[:-1], top=colorbar_edges[1:], fill_color=level_colors[:15],
           line_color="white", line_alpha=0.25, line_width=0.5)
    ax = p.yaxis[0]
    ax.ticker = FixedTicker(ticks=colorbar_ticks)
    ax.major_label_overrides = dict(zip(colorbar_ticks, colorbar_labels))
    ax.axis_line_width = 1.4
    ax.axis_line_color = "#222222"
    ax.major_tick_in = 0
    ax.major_tick_out = 13
    ax.major_tick_line_color = "#222222"
    ax.minor_tick_line_color = None
    ax.major_label_text_font = "DejaVu Sans"
    ax.major_label_text_font_size = "15.5px"
    ax.major_label_text_color = "black"
    ax.major_label_standoff = 6
    return p


top_row = [make_panel(titles[0], 93, 52, 44, 229, show_y=True), make_panel(titles[1], 60, 52, 44, 229),
           make_panel(titles[2], 60, 52, 44, 229), make_panel(titles[3], 60, 52, 44, 229)]
bottom_row = [make_panel(None, 93, 47, 68, 230, show_x=True, show_y=True), make_panel(None, 60, 47, 68, 230, show_x=True),
              make_panel(None, 60, 47, 68, 230, show_x=True), make_panel(None, 60, 47, 68, 230, show_x=True)]

draw_top_left(top_row[0])
draw_top_middle(top_row[1])
draw_top_middle(top_row[2])
draw_top_right(top_row[3])
draw_bottom_left(bottom_row[0])
draw_bottom_second(bottom_row[1])
draw_bottom_third(bottom_row[2])
draw_bottom_right(bottom_row[3])

page = column(row(*top_row, make_colorbar(52, 44, 229), spacing=0),
              row(*bottom_row, make_colorbar(47, 68, 230), spacing=0), spacing=0)
open("out.html", "w").write(file_html(page, INLINE))
